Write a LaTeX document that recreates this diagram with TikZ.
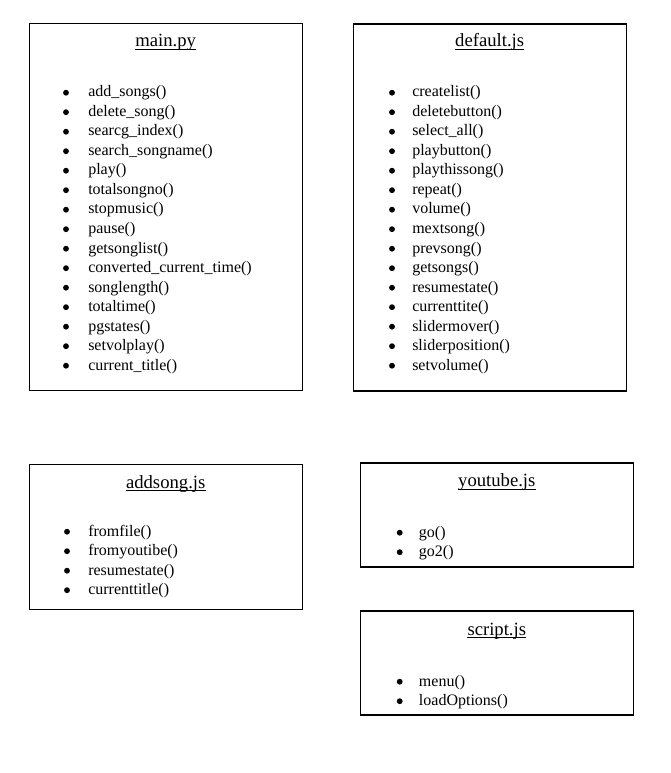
\documentclass[tikz,border=0pt]{standalone}
\usepackage{fontspec}
\setmainfont{Liberation Serif}
\newcommand\myitems[5]{%
  \foreach \t [count=\i] in {#5} {
    \node[bul] (#1b\i) at (#2, {#4+19.5*(\i-1)-4.3}) {};
    \node[itm] (#1t\i) at (#3, {#4+19.5*(\i-1)}) {\t};
  }%
}
\begin{document}
\begin{tikzpicture}[x=0.75pt,y=-0.75pt,
  box/.style={draw, line width=0.85pt, inner sep=0pt, minimum width=204.75pt},
  ttl/.style={anchor=base, inner sep=0pt, font=\fontsize{14pt}{16pt}\selectfont},
  uline/.style={line width=0.6pt},
  itm/.style={anchor=base west, inner sep=0pt, font=\fontsize{12pt}{14pt}\selectfont},
  bul/.style={circle, fill, inner sep=0pt, minimum size=4.4pt}]
\useasboundingbox (0,0) rectangle (670,773);
% boxes
\node[box, minimum height=275.25pt] (mainbox) at (165.7,206.7) {};
\node[box, minimum height=275.25pt] (defbox) at (489.7,207.5) {};
\node[box, minimum height=108.4pt] (addbox) at (165.7,536.8) {};
\node[box, minimum height=78pt] (ytbox) at (496.8,515) {};
\node[box, minimum height=78pt] (scrbox) at (496.8,663) {};
% titles
\node[ttl] (maint) at (165.7,46.5) {main.py};
\node[ttl] (deft) at (489.7,46.5) {default.js};
\node[ttl] (addt) at (165.7,488) {addsong.js};
\node[ttl] (ytt) at (496.8,486.7) {youtube.js};
\node[ttl] (scrt) at (496.8,635) {script.js};
\foreach \n in {maint,deft,addt,ytt,scrt}
  \draw[uline] ([yshift=-1.9pt]\n.base west) -- ([yshift=-1.9pt]\n.base east);
% items
\myitems{m}{66}{88}{97}{add\_songs(),delete\_song(),searcg\_index(),search\_songname(),play(),totalsongno(),stopmusic(),pause(),getsonglist(),converted\_current\_time(),songlength(),totaltime(),pgstates(),setvolplay(),current\_title()}
\myitems{d}{392}{412}{97}{createlist(),deletebutton(),select\_all(),playbutton(),playthissong(),repeat(),volume(),mextsong(),prevsong(),getsongs(),resumestate(),currenttite(),slidermover(),sliderposition(),setvolume()}
\myitems{a}{67}{88}{536}{fromfile(),fromyoutibe(),resumestate(),currenttitle()}
\myitems{y}{399.7}{418.7}{537}{go(),go2()}
\myitems{s}{399.7}{418.7}{686}{menu(),loadOptions()}
\end{tikzpicture}
\end{document}
